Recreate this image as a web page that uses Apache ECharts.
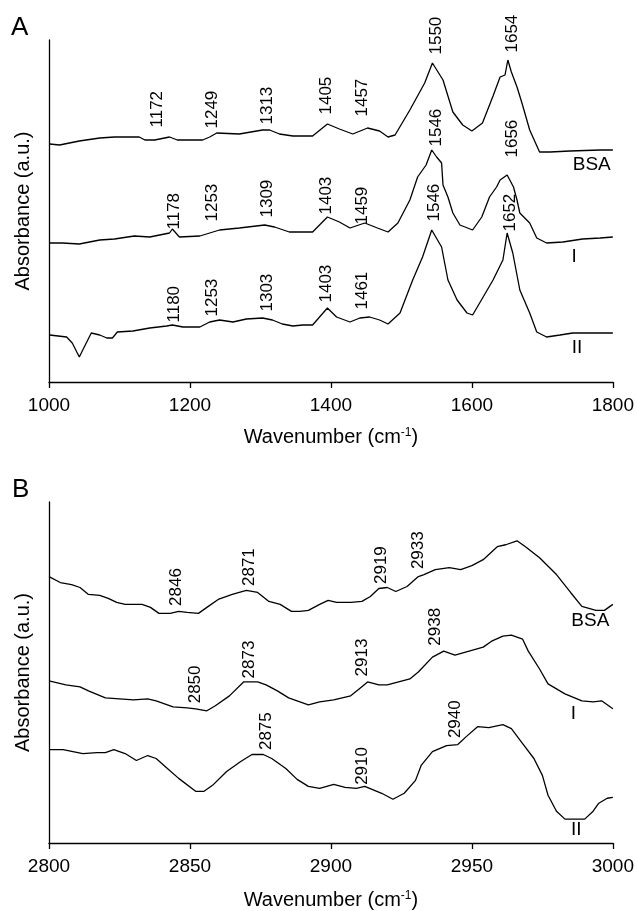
<!DOCTYPE html>
<html>
<head>
<meta charset="utf-8">
<script src="https://cdn.jsdelivr.net/npm/echarts@6/dist/echarts.min.js"></script>
<style>
html,body{margin:0;padding:0;background:#fff;}
#chart{width:637px;height:911px;}
</style>
</head>
<body>
<div id="chart"></div>
<script>
// ---------- Panel A (1000–1800 cm-1) ----------
const xTicksA = [1000, 1200, 1400, 1600, 1800];
const specA_BSA = [[1001,2.38],[1015,2.37],[1043,2.41],[1072,2.44],[1093,2.45],[1128,2.45],[1136,2.42],[1150,2.42],[1171,2.45],[1182,2.42],[1218,2.42],[1228,2.45],[1238,2.49],[1270,2.48],[1303,2.52],[1313,2.52],[1327,2.48],[1346,2.46],[1363,2.46],[1374,2.46],[1395,2.58],[1412,2.53],[1431,2.48],[1452,2.54],[1469,2.51],[1481,2.45],[1491,2.47],[1512,2.72],[1533,2.99],[1544,3.19],[1559,3.02],[1573,2.70],[1587,2.57],[1600,2.51],[1615,2.59],[1630,2.86],[1640,3.05],[1647,3.07],[1651,3.22],[1656,3.10],[1664,2.95],[1671,2.79],[1682,2.52],[1696,2.30],[1711,2.30],[1739,2.31],[1782,2.32],[1800,2.32]];
const specA_I = [[1001,1.39],[1019,1.39],[1043,1.38],[1072,1.42],[1093,1.43],[1121,1.46],[1143,1.45],[1171,1.49],[1175,1.53],[1185,1.45],[1214,1.46],[1242,1.52],[1270,1.54],[1306,1.57],[1320,1.55],[1341,1.50],[1356,1.50],[1374,1.50],[1395,1.65],[1412,1.60],[1427,1.54],[1448,1.59],[1466,1.54],[1481,1.50],[1495,1.59],[1512,1.82],[1523,2.05],[1535,2.17],[1543,2.32],[1550,2.25],[1557,2.19],[1559,1.97],[1566,1.85],[1573,1.69],[1583,1.57],[1601,1.52],[1614,1.65],[1625,1.85],[1635,1.95],[1640,2.02],[1650,2.07],[1659,1.95],[1664,1.82],[1668,1.69],[1682,1.59],[1692,1.44],[1706,1.39],[1729,1.40],[1757,1.43],[1782,1.44],[1800,1.45]];
const specA_II = [[1001,0.47],[1025,0.45],[1033,0.39],[1043,0.25],[1050,0.35],[1060,0.49],[1072,0.47],[1082,0.44],[1090,0.44],[1097,0.50],[1119,0.51],[1143,0.54],[1167,0.56],[1175,0.57],[1190,0.55],[1214,0.55],[1228,0.60],[1242,0.62],[1261,0.60],[1280,0.63],[1303,0.64],[1317,0.62],[1331,0.58],[1346,0.56],[1360,0.57],[1374,0.57],[1395,0.74],[1408,0.65],[1427,0.60],[1441,0.64],[1455,0.65],[1469,0.62],[1481,0.58],[1498,0.69],[1516,1.02],[1530,1.25],[1543,1.52],[1557,1.35],[1566,1.02],[1579,0.82],[1593,0.69],[1601,0.67],[1611,0.79],[1630,1.02],[1644,1.22],[1650,1.49],[1658,1.29],[1668,0.92],[1682,0.69],[1692,0.50],[1706,0.45],[1725,0.47],[1743,0.49],[1767,0.49],[1800,0.49]];
// peak labels: [position, height, text]
const peaksA = [
  [1153,2.54,'1172'],[1232,2.53,'1249'],[1310,2.57,'1313'],[1394,2.67,'1405'],[1444,2.65,'1457'],[1550,3.27,'1550'],[1657,3.29,'1654'],
  [1178,1.52,'1178'],[1232,1.60,'1253'],[1310,1.64,'1309'],[1394,1.67,'1403'],[1445,1.57,'1459'],[1550,2.35,'1546'],[1657,2.24,'1656'],
  [1178,0.59,'1180'],[1232,0.65,'1253'],[1310,0.70,'1303'],[1394,0.79,'1403'],[1445,0.72,'1461'],[1547,1.60,'1546'],[1654,1.50,'1652']
];
const namesA = [[1770,2.17,'BSA'],[1745,1.25,'I'],[1749,0.34,'II']];

// ---------- Panel B (2800–3000 cm-1) ----------
const xTicksB = [2800, 2850, 2900, 2950, 3000];
const specB_BSA = [[2800,2.68],[2804,2.62],[2808,2.60],[2811,2.57],[2814,2.50],[2818,2.49],[2821,2.46],[2824,2.42],[2827,2.40],[2833,2.40],[2836,2.37],[2839,2.31],[2843,2.31],[2846,2.33],[2849,2.32],[2853,2.31],[2856,2.37],[2860,2.45],[2865,2.50],[2870,2.54],[2874,2.52],[2878,2.43],[2882,2.40],[2886,2.33],[2889,2.33],[2892,2.34],[2896,2.40],[2899,2.44],[2902,2.42],[2907,2.42],[2911,2.43],[2914,2.48],[2917,2.56],[2920,2.57],[2923,2.53],[2927,2.58],[2931,2.68],[2933,2.70],[2937,2.75],[2942,2.77],[2946,2.75],[2950,2.79],[2954,2.85],[2959,2.98],[2962,3.00],[2966,3.04],[2969,2.98],[2974,2.87],[2980,2.70],[2985,2.52],[2989,2.38],[2994,2.34],[2997,2.34],[3000,2.40]];
const specB_I = [[2800,1.63],[2806,1.59],[2811,1.57],[2814,1.53],[2820,1.46],[2825,1.45],[2830,1.44],[2835,1.45],[2838,1.43],[2844,1.37],[2849,1.36],[2852,1.35],[2856,1.33],[2859,1.38],[2864,1.48],[2869,1.62],[2874,1.62],[2877,1.59],[2881,1.53],[2885,1.46],[2889,1.42],[2892,1.39],[2896,1.42],[2901,1.44],[2907,1.48],[2910,1.55],[2913,1.62],[2917,1.59],[2920,1.59],[2924,1.62],[2928,1.65],[2931,1.72],[2936,1.87],[2940,1.93],[2944,1.89],[2949,1.93],[2954,1.97],[2957,2.03],[2961,2.08],[2964,2.09],[2968,2.05],[2970,1.93],[2974,1.75],[2977,1.60],[2983,1.50],[2989,1.43],[2993,1.42],[2996,1.43],[3000,1.35]];
const specB_II = [[2800,0.94],[2805,0.94],[2812,0.90],[2817,0.91],[2820,0.91],[2823,0.94],[2827,0.90],[2831,0.83],[2835,0.88],[2838,0.85],[2842,0.75],[2846,0.65],[2852,0.52],[2855,0.52],[2858,0.58],[2863,0.72],[2868,0.82],[2872,0.89],[2876,0.89],[2879,0.85],[2884,0.75],[2888,0.64],[2892,0.57],[2896,0.55],[2901,0.59],[2905,0.56],[2909,0.55],[2912,0.57],[2918,0.50],[2922,0.44],[2926,0.50],[2930,0.63],[2932,0.78],[2936,0.92],[2941,0.98],[2945,0.99],[2948,1.07],[2952,1.17],[2956,1.16],[2961,1.19],[2964,1.15],[2968,1.00],[2972,0.85],[2975,0.68],[2977,0.48],[2980,0.32],[2983,0.24],[2990,0.24],[2993,0.32],[2995,0.40],[2998,0.45],[3000,0.46]];
const peaksB = [
  [2845,2.38,'2846'],[2871,2.58,'2871'],[2918,2.60,'2919'],[2931,2.75,'2933'],
  [2852,1.40,'2850'],[2871,1.65,'2873'],[2911,1.67,'2913'],[2937,1.98,'2938'],
  [2877,0.93,'2875'],[2911,0.58,'2910'],[2944,1.05,'2940']
];
const namesB = [[2992,2.23,'BSA'],[2986,1.29,'I'],[2987,0.13,'II']];

const FONT = "'Liberation Sans', Arial, Helvetica, sans-serif";
const INK = '#000';

function xAxisFor(gi, ticks, gap) {
  const step = ticks[1] - ticks[0];
  return {
    gridIndex: gi, type: 'value',
    min: ticks[0], max: ticks[ticks.length - 1], interval: step,
    axisLine: {show: true, lineStyle: {color: INK, width: 1.3}},
    axisTick: {show: true, inside: false, length: 6, lineStyle: {color: INK, width: 1.3}},
    axisLabel: {color: INK, fontFamily: FONT, fontSize: 19, margin: 14, formatter: v => String(v)},
    splitLine: {show: false},
    name: '{a|Wavenumber (cm}{s|-1}{a|)}',
    nameLocation: 'middle', nameGap: gap,
    nameTextStyle: {
      rich: {
        a: {fontFamily: FONT, fontSize: 20, color: INK},
        s: {fontFamily: FONT, fontSize: 12, color: INK, verticalAlign: 'top', padding: [0, 0, 8, 0]}
      }
    }
  };
}
function yAxisFor(gi, max) {
  return {
    gridIndex: gi, type: 'value', min: 0, max: max,
    axisLine: {show: true, lineStyle: {color: INK, width: 1.3}},
    axisTick: {show: false}, axisLabel: {show: false}, splitLine: {show: false},
    name: 'Absorbance (a.u.)', nameLocation: 'middle', nameGap: 16,
    nameTextStyle: {fontFamily: FONT, fontSize: 20, color: INK}
  };
}
function lineSeries(gi, data) {
  return {
    type: 'line', xAxisIndex: gi, yAxisIndex: gi, data: data,
    showSymbol: false, symbol: 'none', silent: true, animation: false,
    lineStyle: {color: '#000', width: 1.3}
  };
}
function textSeries(gi, data, size, rotated) {
  return {
    type: 'scatter', xAxisIndex: gi, yAxisIndex: gi, data: data,
    symbolSize: 1, itemStyle: {color: 'rgba(255,255,255,0)', opacity: 1},
    silent: true, animation: false,
    label: {
      show: true, position: 'top', distance: 0,
      rotate: rotated ? 90 : 0,
      align: rotated ? 'left' : 'center', verticalAlign: 'middle',
      formatter: p => p.data[2], fontFamily: FONT, fontSize: size, color: INK,
      opacity: 1, textBorderWidth: 0
    }
  };
}

const chart = echarts.init(document.getElementById('chart'), null, {renderer: 'canvas'});
chart.setOption({
  backgroundColor: '#fff',
  animation: false,
  grid: [
    {left: 49, right: 24, top: 40, height: 342},
    {left: 49, right: 24, top: 502, height: 343}
  ],
  xAxis: [xAxisFor(0, xTicksA, 45), xAxisFor(1, xTicksB, 47)],
  yAxis: [yAxisFor(0, 3.42), yAxisFor(1, 3.43)],
  graphic: [
    {type: 'text', left: 11, top: 15, style: {text: 'A', fontFamily: FONT, fontSize: 26, fill: INK}},
    {type: 'text', left: 12, top: 477, style: {text: 'B', fontFamily: FONT, fontSize: 26, fill: INK}}
  ],
  series: [
    lineSeries(0, specA_BSA), lineSeries(0, specA_I), lineSeries(0, specA_II),
    textSeries(0, peaksA, 17, true), textSeries(0, namesA, 19, false),
    lineSeries(1, specB_BSA), lineSeries(1, specB_I), lineSeries(1, specB_II),
    textSeries(1, peaksB, 17, true), textSeries(1, namesB, 19, false)
  ]
});
</script>
</body>
</html>
